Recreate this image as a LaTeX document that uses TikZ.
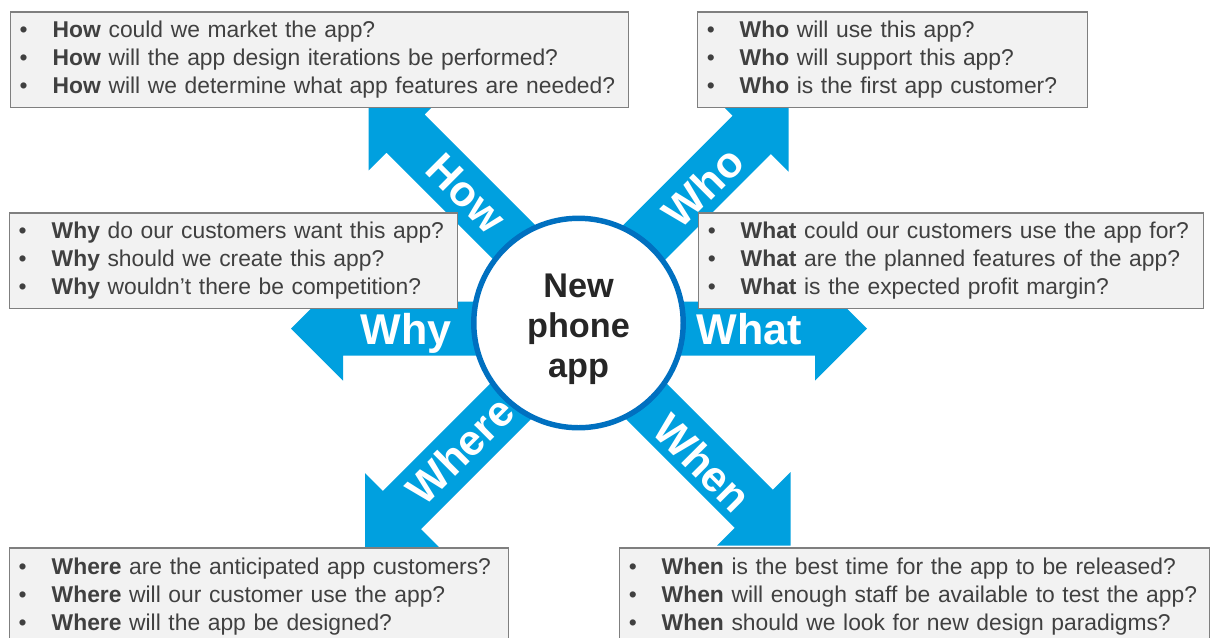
\documentclass[tikz,border=0pt]{standalone}
\usepackage{fontspec}
\setmainfont{Liberation Sans}

\definecolor{arrowblue}{RGB}{0,160,223}
\definecolor{ringblue}{RGB}{0,112,192}
\definecolor{boxfill}{RGB}{242,242,242}
\definecolor{boxline}{RGB}{127,127,127}
\definecolor{qtext}{RGB}{64,64,64}

% one bullet line of a question box
\newcommand{\qb}[2]{\mbox{\makebox[0.66cm][l]{\textbullet}\textbf{#1} #2}}

\begin{document}
\begin{tikzpicture}[
  x=0.02cm, y=-0.02cm,
  every node/.style={inner sep=0pt},
  %% --- styles ---------------------------------------------------
  qbox/.style={
    draw=boxline, fill=boxfill, line width=0.85pt, anchor=north west,
    inner xsep=0.18cm, inner ysep=0pt, minimum height=1.92cm,
    align=left, text=qtext, font=\fontsize{13pt}{15.9pt}\selectfont},
  hub/.style={
    circle, draw=ringblue, fill=white, line width=3.1pt,
    minimum size=4.19cm},
  hubtext/.style={
    align=center, text=black!85,
    font=\fontsize{19.5pt}{22.8pt}\selectfont\bfseries},
  tag/.style={
    text=white, font=\fontsize{24.5pt}{28pt}\selectfont\bfseries,
    text height=17.6pt, text depth=0pt},
  pics/bigarrow/.style={code={
    \fill[arrowblue] (#1,-27) -- (0,-27) -- (0,-52) -- (52,0)
                     -- (0,52) -- (0,27) -- (#1,27) -- cycle;}}
]
  \useasboundingbox (0,0) rectangle (1211,637);
  \clip (0,0) rectangle (1211,637);

  %% ==============================================================
  %%  arrows (pic placed at the back of each head)
  %% ==============================================================
  \pic[rotate=135] at (405.5,133.5) {bigarrow=-256};
  \pic[rotate=45]  at (751.8,134.8) {bigarrow=-256};
  \pic[rotate=180] at (343,328.5)   {bigarrow=-236};
  \pic[rotate=0]   at (815,328.5)   {bigarrow=-237};
  \pic[rotate=225] at (402,510)     {bigarrow=-257};
  \pic[rotate=315] at (753.8,508.8) {bigarrow=-255};

  \node[tag, rotate=-45] (lblhow)   at (467,193) {How};
  \node[tag, rotate=45]  (lblwho)   at (703,187) {Who};
  \node[tag]             (lblwhy)   at (406,329) {Why};
  \node[tag]             (lblwhat)  at (749,329) {What};
  \node[tag, rotate=45]  (lblwhere) at (460,450) {Where};
  \node[tag, rotate=-45] (lblwhen)  at (703,463) {When};

  %% ==============================================================
  %%  centre
  %% ==============================================================
  \node[hub] (hub) at (578.5,323) {};
  \node[hubtext] (hubname) at (578.5,329) {New\\phone\\app};

  %% ==============================================================
  %%  question boxes
  %% ==============================================================
  \node[qbox, text width=12.0cm] (howbox) at (10,11) {%
    \qb{How}{could we market the app?}\\
    \qb{How}{will the app design iterations be performed?}\\
    \qb{How}{will we determine what app features are needed?}};

  \node[qbox, text width=7.44cm] (whobox) at (697,11) {%
    \qb{Who}{will use this app?}\\
    \qb{Who}{will support this app?}\\
    \qb{Who}{is the first app customer?}};

  \node[qbox, text width=8.6cm] (whybox) at (9,212) {%
    \qb{Why}{do our customers want this app?}\\
    \qb{Why}{should we create this app?}\\
    \qb{Why}{wouldn’t there be competition?}};

  \node[qbox, text width=9.74cm] (whatbox) at (698,212) {%
    \qb{What}{could our customers use the app for?}\\
    \qb{What}{are the planned features of the app?}\\
    \qb{What}{is the expected profit margin?}};

  \node[qbox, text width=9.62cm, minimum height=1.94cm] (wherebox) at (9,547) {%
    \qb{Where}{are the anticipated app customers?}\\
    \qb{Where}{will our customer use the app?}\\
    \qb{Where}{will the app be designed?}};

  \node[qbox, text width=11.44cm, minimum height=1.94cm] (whenbox) at (619,547) {%
    \qb{When}{is the best time for the app to be released?}\\
    \qb{When}{will enough staff be available to test the app?}\\
    \qb{When}{should we look for new design paradigms?}};

\end{tikzpicture}
\end{document}
